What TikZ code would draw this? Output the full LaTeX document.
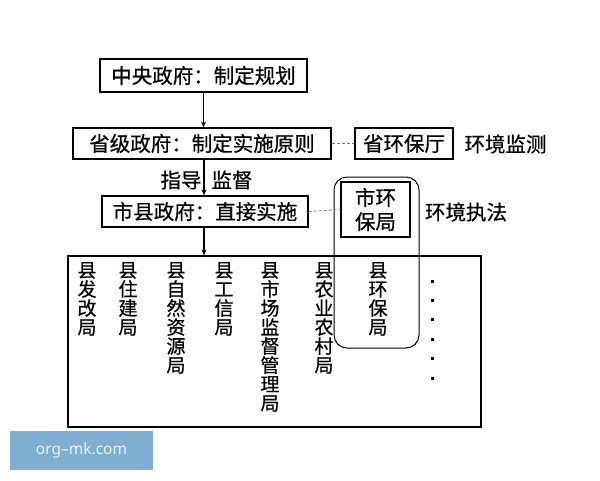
\documentclass[tikz,border=0pt]{standalone}
\usepackage{fontspec}
\setmainfont{Noto Sans}
\newfontfamily\cjk[FakeBold=0.6]{Noto Sans CJK SC}
\usetikzlibrary{arrows.meta}
\definecolor{wmblue}{RGB}{126,174,208}
\definecolor{wmtext}{RGB}{236,243,249}
\begin{document}
\begin{tikzpicture}[x=1pt,y=-1pt,
  box/.style={draw=black,line width=1.2pt,inner sep=0pt,font=\cjk\fontsize{20.5}{22}\selectfont},
  lbl/.style={inner sep=0pt,font=\cjk\fontsize{20.5}{22}\selectfont},
  vtext/.style={inner sep=0pt,anchor=north,align=center,font=\cjk\fontsize{19}{19}\selectfont},
  arr/.style={line width=1.1pt,-{Stealth[length=6pt,width=5pt]}},
  dashline/.style={draw=gray,line width=0.8pt,densely dashed}
]
\useasboundingbox (0,0) rectangle (600,480);
\fill[white] (0,0) rectangle (600,480);

\node[box,minimum width=207pt,minimum height=33pt] (central) at (203.5,75.5) {中央政府：制定规划};
\node[box,minimum width=258pt,minimum height=31pt] (prov) at (202,143.5) {省级政府：制定实施原则};
\node[box,minimum width=98pt,minimum height=31pt] (provenv) at (404,143.5) {省环保厅};
\node[lbl] (monitor) at (505.5,144) {环境监测};
\node[box,minimum width=69pt,minimum height=55pt,align=center,font=\cjk\fontsize{20.5}{24}\selectfont] (cityenv) at (375.5,209.5) {市环\\保局};
\node[box,minimum width=206pt,minimum height=31pt] (city) at (205,211.5) {市县政府：直接实施};
\node[lbl] (enforce) at (466,212) {环境执法};
\node[draw=black,line width=1pt,rounded corners=13pt,minimum width=85pt,minimum height=171pt,inner sep=0pt] (ring) at (376.5,262.5) {};
\node[draw=black,line width=1.2pt,minimum width=413pt,minimum height=171pt,inner sep=0pt] (county) at (274.5,341.5) {};

\node[lbl] (guide) at (181,180) {指导};
\node[lbl] (supervise) at (232,180) {监督};

\draw[arr] (203.5,92) coordinate (c1) -- (c1 |- prov.north);
\draw[arr] (204,159) coordinate (c2) -- (c2 |- city.north);
\draw[arr] (204,227) coordinate (c3) -- (c3 |- county.north);
\draw[dashline] (prov.east) -- (provenv.west);
\draw[dashline] (city.east) -- (cityenv.west);

\node[vtext] (d1) at (87,262) {县\\发\\改\\局};
\node[vtext] (d2) at (128,262) {县\\住\\建\\局};
\node[vtext] (d3) at (176,262) {县\\自\\然\\资\\源\\局};
\node[vtext] (d4) at (224,262) {县\\工\\信\\局};
\node[vtext] (d5) at (270,262) {县\\市\\场\\监\\督\\管\\理\\局};
\node[vtext] (d6) at (324,262) {县\\农\\业\\农\\村\\局};
\node[vtext] (d7) at (378,262) {县\\环\\保\\局};
\foreach \i in {0,...,5} {
  \fill (430.5,279.5+19.4*\i) rectangle ++(3,3);
}

\node[fill=wmblue,minimum width=143pt,minimum height=39pt,inner sep=0pt,text=wmtext,font=\fontsize{15.5}{17}\selectfont] (wm) at (81.5,450.5) {org–mk.com};
\end{tikzpicture}
\end{document}
